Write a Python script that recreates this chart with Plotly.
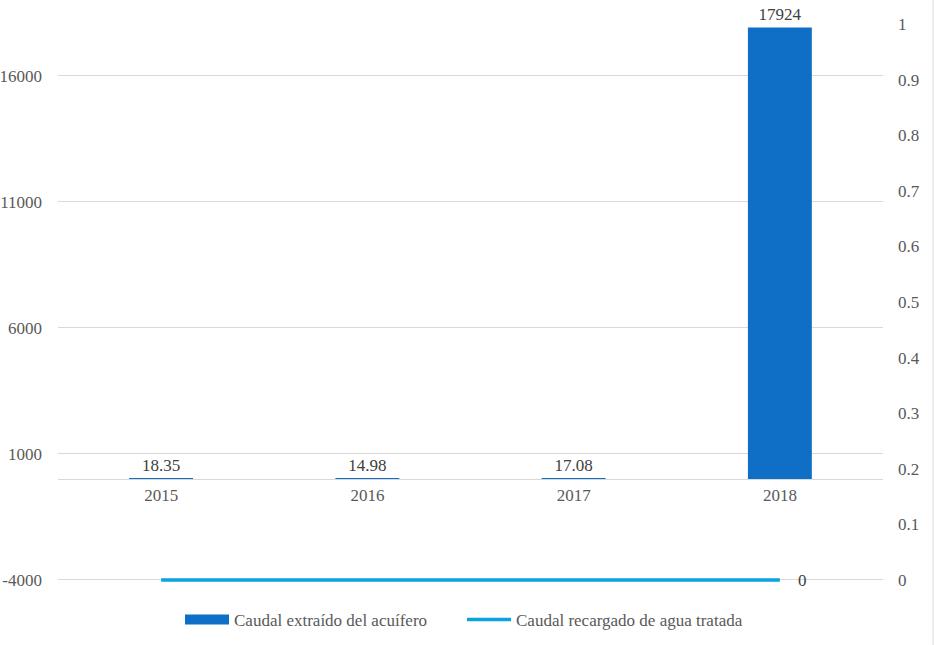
import plotly.graph_objects as go

years = ["2015", "2016", "2017", "2018"]
caudal_extraido = [18.35, 14.98, 17.08, 17924]
caudal_recargado = [0, 0, 0, 0]
bar_labels = ["18.35", "14.98", "17.08", "17924"]
left_ticks = [-4000, 1000, 6000, 11000, 16000]
left_tick_text = ["-4000", "1000", "6000", "11000", "16000"]

FONT = "Liberation Serif, Times New Roman, serif"
GRAY = "#595959"
FS = 17
BAR_COLOR = "#0F6FC6"
LINE_COLOR = "#0BA2E0"

W, H = 936, 645
L, R, T, B = 58, 53, 24, 63
PW = W - L - R

Y_MIN, Y_MAX = -4080, 18060
Y2_MIN, Y2_MAX = -0.0036, 1.0

fig = go.Figure()
fig.add_trace(go.Bar(
    x=years, y=caudal_extraido, name="Caudal extraído del acuífero",
    marker=dict(color=BAR_COLOR, line=dict(width=0)),
    text=bar_labels, textposition="outside", texttemplate="%{text}",
    textfont=dict(family=FONT, size=FS, color="#404040"),
    cliponaxis=False, width=0.31, showlegend=False,
))
# legend entry drawn as a wide rectangle like the original
fig.add_trace(go.Scatter(
    x=years, y=[None] * len(years), name="Caudal extraído del acuífero",
    mode="lines", line=dict(color=BAR_COLOR, width=10), hoverinfo="skip",
    legend="legend",
))
fig.add_trace(go.Scatter(
    x=years, y=caudal_recargado, name="Caudal recargado de agua tratada",
    yaxis="y2", mode="lines", line=dict(color=LINE_COLOR, width=3.5),
    cliponaxis=False, legend="legend2",
))
# data label for the last point of the line (category index of last year)
fig.add_annotation(
    x=len(years) - 1, y=caudal_recargado[-1], xref="x", yref="y2",
    text=str(caudal_recargado[-1]), showarrow=False, xanchor="left", xshift=16,
    font=dict(family=FONT, size=FS, color="#404040"),
)

leg_common = dict(orientation="h", xanchor="left", xref="container",
                  yanchor="middle", yref="container", y=1 - 620 / H,
                  font=dict(family=FONT, size=FS, color=GRAY), itemwidth=44)
xpos = (0 - Y_MIN) / (Y_MAX - Y_MIN)
fig.update_layout(
    width=W, height=H,
    margin=dict(l=L, r=R, t=T, b=B, autoexpand=False),
    paper_bgcolor="white", plot_bgcolor="white",
    font=dict(family=FONT, size=FS, color=GRAY),
    showlegend=True,
    legend=dict(x=180 / W, **leg_common),
    legend2=dict(x=462 / W, **leg_common),
    xaxis=dict(type="category", range=[-0.5, len(years) - 0.5], anchor="free",
               position=xpos, showline=True,
               linecolor="#D9D9D9", linewidth=1, ticks="", showgrid=False,
               automargin=False, tickfont=dict(size=FS, color=GRAY)),
    yaxis=dict(range=[Y_MIN, Y_MAX], tickvals=left_ticks, ticktext=left_tick_text,
               showgrid=True, gridcolor="#D9D9D9", gridwidth=1, zeroline=False,
               showline=False, ticks="", ticklabelstandoff=15, automargin=False,
               tickfont=dict(size=FS, color=GRAY)),
    yaxis2=dict(range=[Y2_MIN, Y2_MAX], tick0=0, dtick=0.1, overlaying="y", side="right",
                showgrid=False, zeroline=False, showline=False, ticks="",
                ticklabelstandoff=14, automargin=False,
                tickfont=dict(size=FS, color=GRAY)),
    bargap=0.69,
)
fig.add_shape(type="line", xref="paper", yref="paper",
              x0=(933 - L) / PW, x1=(933 - L) / PW, y0=-0.2, y1=1.05,
              line=dict(color="#D9D9D9", width=1))
fig.write_html("out.html", post_script="document.body.style.margin='0';",
               config={"displayModeBar": False})
